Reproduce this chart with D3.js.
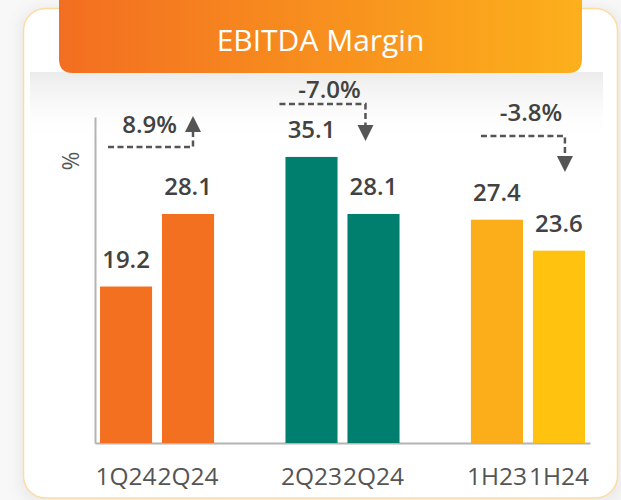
<!DOCTYPE html>
<html>
<head>
<meta charset="utf-8">
<script src="https://cdn.jsdelivr.net/npm/d3@7"></script>
<style>
  html, body { margin: 0; padding: 0; background: #f8f8f8; }
  svg { display: block; font-family: "Open Sans", "Noto Sans", sans-serif; }
</style>
</head>
<body>
<div id="chart"></div>
<script>
// data
var groups = ["g1", "g2", "g3"];
var categories = [["1Q24", "2Q24"], ["2Q23", "2Q24"], ["1H23", "1H24"]];
var values = [[19.2, 28.1], [35.1, 28.1], [27.4, 23.6]];
var changes = ["8.9%", "-7.0%", "-3.8%"];
var directions = ["up", "down", "down"];
var barColors = [["#f37021", "#f37021"], ["#007e6e", "#007e6e"], ["#fcae1a", "#ffc20e"]];

var W = 621, H = 500;

var svg = d3.select("#chart")
  .append("svg")
    .attr("width", W)
    .attr("height", H);

var defs = svg.append("defs");

var grad = defs.append("linearGradient").attr("id", "banner")
  .attr("x1", "0%").attr("x2", "100%").attr("y1", "0%").attr("y2", "0%");
grad.append("stop").attr("offset", "0%").attr("stop-color", "#f36e21");
grad.append("stop").attr("offset", "100%").attr("stop-color", "#fcb01b");

var shade = defs.append("linearGradient").attr("id", "shade")
  .attr("x1", "0%").attr("x2", "0%").attr("y1", "0%").attr("y2", "100%");
shade.append("stop").attr("offset", "0%").attr("stop-color", "#ebebeb").attr("stop-opacity", 1);
shade.append("stop").attr("offset", "100%").attr("stop-color", "#ffffff").attr("stop-opacity", 0);

var blur = defs.append("filter").attr("id", "soft")
  .attr("x", "-10%").attr("y", "-10%").attr("width", "120%").attr("height", "120%");
blur.append("feGaussianBlur").attr("stdDeviation", 6);

// card
svg.append("rect")
  .attr("x", 18).attr("y", 6).attr("width", 606).attr("height", 500)
  .attr("rx", 24).attr("fill", "#ececec").attr("filter", "url(#soft)");
svg.append("rect")
  .attr("x", 23.5).attr("y", 8.5).attr("width", 594).attr("height", 489.5)
  .attr("rx", 22).attr("fill", "#ffffff")
  .attr("stroke", "#fddca2").attr("stroke-width", 1.5);

// shadow under the banner
svg.append("rect")
  .attr("x", 30).attr("y", 72).attr("width", 573).attr("height", 72)
  .attr("fill", "url(#shade)");

// banner
svg.append("path")
  .attr("d", "M59,-2 H582 V59 Q582,73 568,73 H73 Q59,73 59,59 Z")
  .attr("fill", "url(#banner)");
svg.append("text")
  .attr("x", 320.5).attr("y", 51)
  .attr("text-anchor", "middle")
  .attr("fill", "#ffffff")
  .attr("font-size", 30)
  .text("EBITDA Margin");

// scales
var x0 = d3.scaleBand()
  .domain(groups)
  .range([95, 590])
  .paddingInner(0.385)
  .paddingOuter(0.027);

var x1 = d3.scaleBand()
  .domain([0, 1])
  .range([0, x0.bandwidth()])
  .paddingInner(0.16);

var y = d3.scaleLinear()
  .domain([0, 40])
  .range([443, 117]);

// axes
var axisColor = "#b3b3b3";
var gx = svg.append("g")
  .attr("transform", "translate(0,443)")
  .call(d3.axisBottom(x0).tickSize(0).tickFormat(""));
gx.select(".domain").attr("stroke", axisColor).attr("stroke-width", 2);

var gy = svg.append("g")
  .attr("transform", "translate(95,0)")
  .call(d3.axisLeft(y).tickValues([]).tickSize(0));
gy.select(".domain").attr("stroke", axisColor).attr("stroke-width", 2);

svg.append("text")
  .attr("transform", "translate(79,161) rotate(-90)")
  .attr("text-anchor", "middle")
  .attr("fill", "#555555")
  .attr("font-size", 23)
  .text("%");

// bars
var flat = [];
groups.forEach(function(g, gi) {
  values[gi].forEach(function(v, i) {
    flat.push({group: g, i: i, value: v, label: categories[gi][i], color: barColors[gi][i]});
  });
});

var bars = svg.append("g").selectAll("g")
  .data(flat)
  .enter().append("g");

bars.append("rect")
  .attr("x", function(d) { return x0(d.group) + x1(d.i); })
  .attr("y", function(d) { return y(d.value); })
  .attr("width", x1.bandwidth())
  .attr("height", function(d) { return y(0) - y(d.value); })
  .attr("fill", function(d) { return d.color; });

bars.append("text")
  .attr("x", function(d) { return x0(d.group) + x1(d.i) + x1.bandwidth() / 2; })
  .attr("y", function(d) { return y(d.value) - 19; })
  .attr("text-anchor", "middle")
  .attr("fill", "#424242")
  .attr("font-size", 24)
  .attr("font-weight", 600)
  .text(function(d) { return d.value.toFixed(1); });

bars.append("text")
  .attr("x", function(d) { return x0(d.group) + x1(d.i) + x1.bandwidth() / 2; })
  .attr("y", 485)
  .attr("text-anchor", "middle")
  .attr("fill", "#555555")
  .attr("font-size", 24.5)
  .text(function(d) { return d.label; });

// change annotations (offsets relative to group start)
var annot = [
  {from: 8, to: 93, lineY: 147, tip: 116, tx: 77, ty: 133, anchor: "end"},
  {from: -6, to: 80, lineY: 104, tip: 141, tx: 44, ty: 98, anchor: "middle"},
  {from: 10, to: 94, lineY: 136, tip: 172, tx: 60, ty: 121, anchor: "middle"}
];

var ann = svg.append("g").selectAll("g")
  .data(groups)
  .enter().append("g");

ann.each(function(g, gi) {
  var a = annot[gi], gx0 = x0(g), sel = d3.select(this);
  var ax = gx0 + a.to;
  var up = directions[gi] == "up";
  var headBase = up ? a.tip + 16 : a.tip - 16;
  sel.append("path")
    .attr("d", "M" + (gx0 + a.from) + "," + a.lineY + " H" + ax + " V" + headBase)
    .attr("fill", "none")
    .attr("stroke", "#555555")
    .attr("stroke-width", 2.5)
    .attr("stroke-dasharray", "6,3.5");
  sel.append("path")
    .attr("d", "M" + (ax - 8) + "," + headBase + " L" + (ax + 8) + "," + headBase + " L" + ax + "," + a.tip + " Z")
    .attr("fill", "#555555");
  sel.append("text")
    .attr("x", gx0 + a.tx)
    .attr("y", a.ty)
    .attr("text-anchor", a.anchor)
    .attr("fill", "#424242")
    .attr("font-size", 24)
    .attr("font-weight", 600)
    .text(changes[gi]);
});
</script>
</body>
</html>
